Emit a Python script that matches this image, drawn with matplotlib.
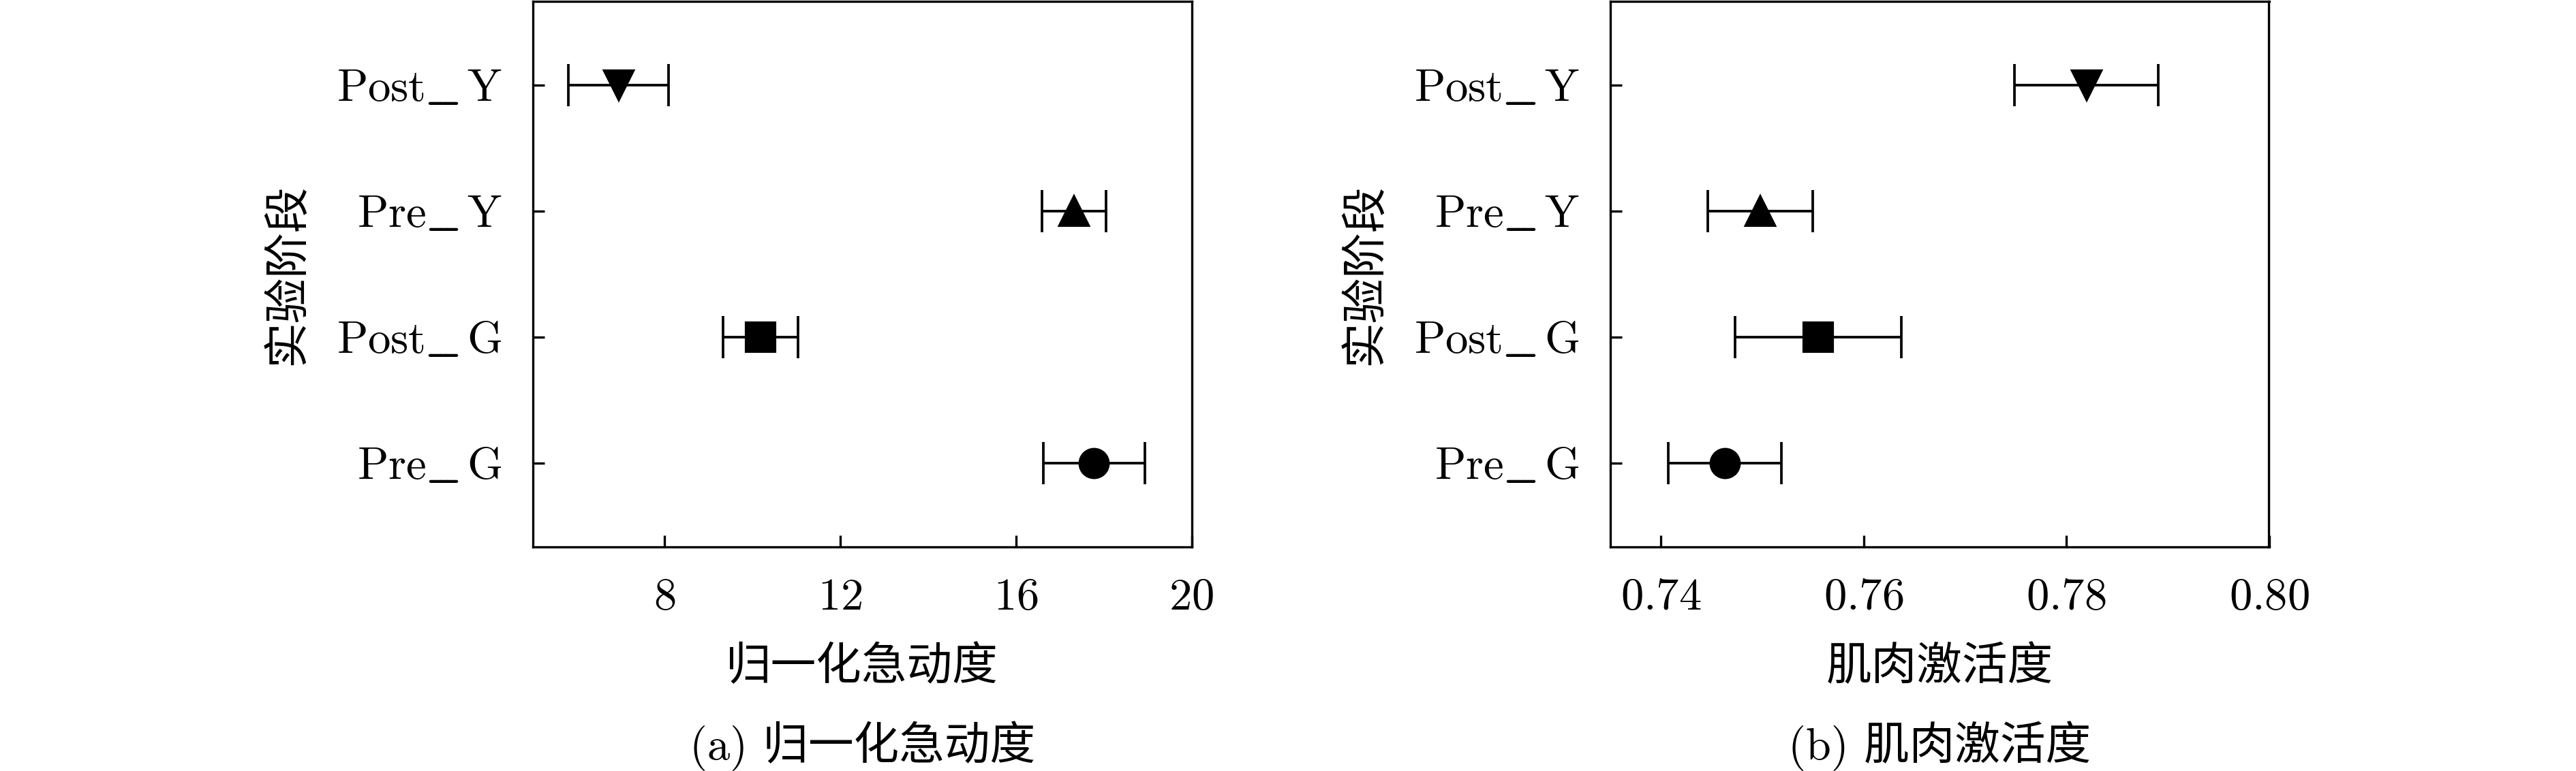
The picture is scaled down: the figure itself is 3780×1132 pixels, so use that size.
import matplotlib
matplotlib.use('Agg')
import matplotlib.pyplot as plt

plt.rcParams['font.family'] = ['cmr10', 'Noto Sans CJK SC']
plt.rcParams['mathtext.fontset'] = 'cm'
plt.rcParams['axes.formatter.use_mathtext'] = True
plt.rcParams['font.size'] = 16

# experiment stages, bottom to top
stages = ['Pre_G', 'Post_G', 'Pre_Y', 'Post_Y']
markers = ['o', 's', '^', 'v']

# (a) normalized jerk: mean and error half-width
jerk_mean = [17.78, 10.18, 17.33, 6.95]
jerk_err = [1.16, 0.855, 0.73, 1.14]

# (b) muscle activation
act_mean = [0.7463, 0.7555, 0.7498, 0.7820]
act_err = [0.0056, 0.0082, 0.0052, 0.0071]

panels = [
    dict(mean=jerk_mean, err=jerk_err, xlim=(5, 20), xticks=[8, 12, 16, 20],
         xlabel='归一化急动度', caption='(a) 归一化急动度', left=782),
    dict(mean=act_mean, err=act_err, xlim=(0.735, 0.80), xticks=[0.74, 0.76, 0.78, 0.80],
         xlabel='肌肉激活度', caption='(b) 肌肉激活度', left=2363),
]


def stage_label(s):
    # latex-style wide underscore: two overlapping \_ glyphs
    return r'$\mathrm{' + s.replace('_', r'\_\!\!\_\,') + '}$'


W, H = 3780, 1132
fig = plt.figure(figsize=(W / 300, H / 300), dpi=300)
ax_w = 966.5 / W
ax_b = 1 - 803 / H
ax_h = 801 / H

for p in panels:
    ax = fig.add_axes([p['left'] / W, ax_b, ax_w, ax_h])
    for i in range(len(stages)):
        ax.errorbar(p['mean'][i], i + 1, xerr=p['err'][i], fmt=markers[i],
                    color='black', ms=10, elinewidth=0.9, capsize=7.5,
                    capthick=0.9)
    ax.set_xlim(*p['xlim'])
    ax.set_ylim(0.335, 4.665)
    ax.set_xticks(p['xticks'])
    ax.set_yticks(range(1, len(stages) + 1))
    ax.set_yticklabels([stage_label(s) for s in stages])
    ax.tick_params(direction='in', length=4, width=0.8)
    ax.tick_params(axis='x', pad=11)
    ax.tick_params(axis='y', pad=11)
    for sp in ax.spines.values():
        sp.set_linewidth(0.8)
    ax.set_xlabel(p['xlabel'], va='center')
    ax.xaxis.set_label_coords(0.5, -0.221)
    ax.set_ylabel('实验阶段', va='center')
    ax.yaxis.set_label_coords(-0.3725, 0.5)
    fig.text((p['left'] + 966.5 / 2) / W, 1 - 1095 / H, p['caption'],
             ha='center', va='center')

fig.savefig('out.png', dpi=300)
